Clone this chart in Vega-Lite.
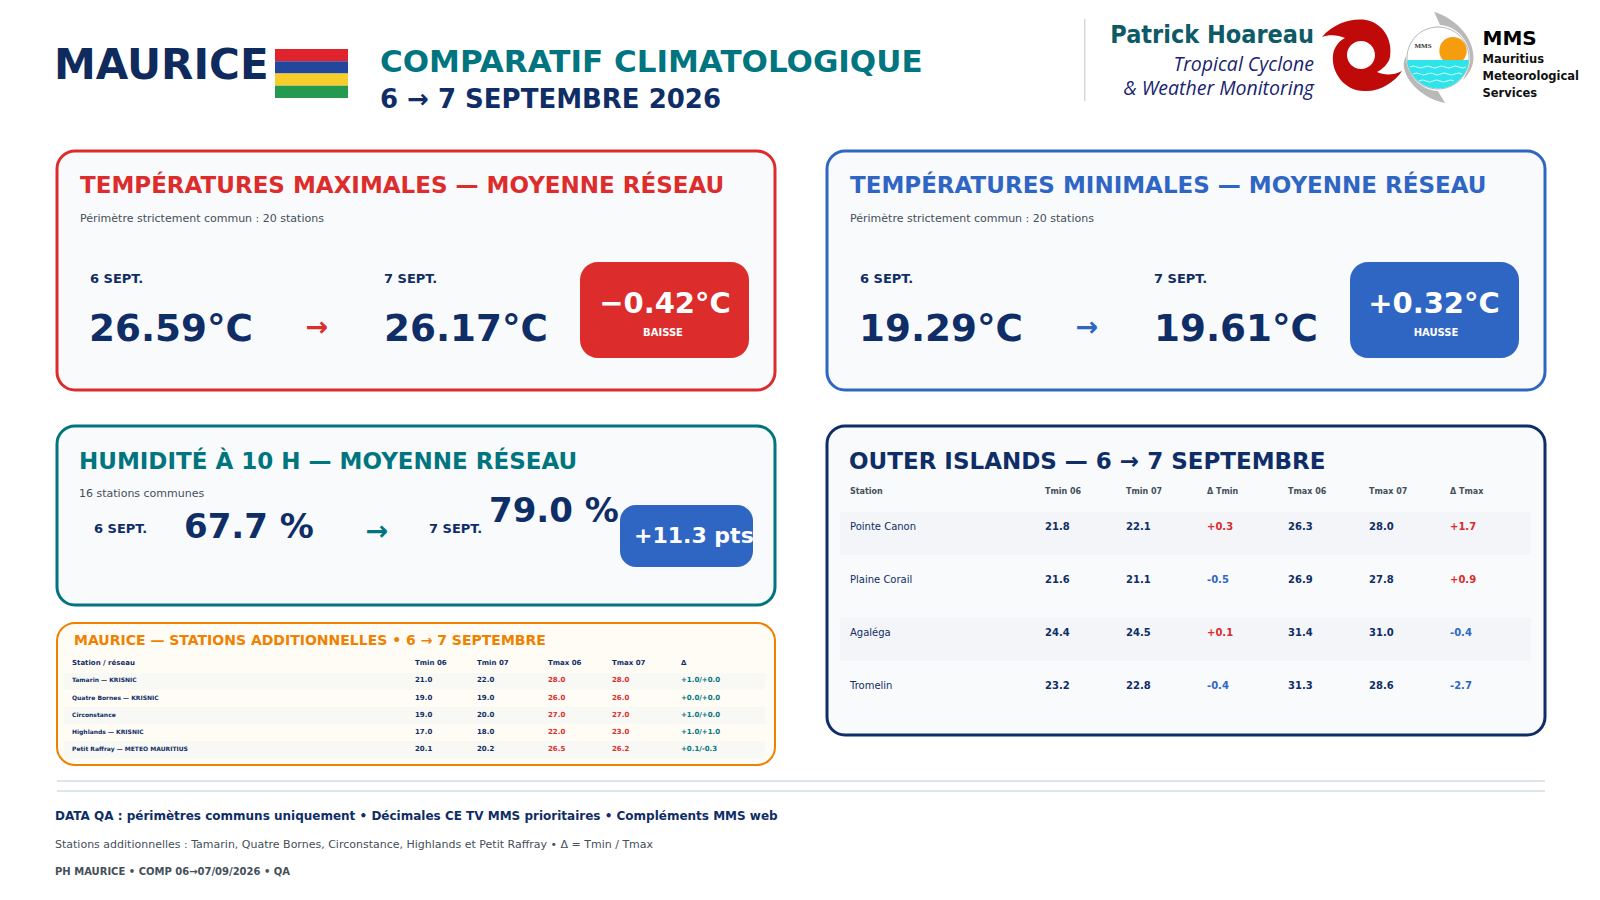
{
  "$schema": "https://vega.github.io/schema/vega-lite/v6.json",
  "background": "white",
  "padding": {"left": 52, "top": 0, "right": 0, "bottom": 0},
  "spacing": 0,
  "resolve": {"scale": {"color": "independent", "size": "independent"}},
  "config": {
    "font": "DejaVu Sans",
    "axis": {"disable": true},
    "legend": {"disable": true},
    "view": {"stroke": null},
    "text": {"font": "DejaVu Sans"},
    "scale": {"pointPadding": 0}
  },
  "datasets": {
    "stations": [
      {"station": "en-tête", "colonne": "Station", "valeur": "Station / réseau"},
      {"station": "en-tête", "colonne": "Tmin 06", "valeur": "Tmin 06"},
      {"station": "en-tête", "colonne": "Tmin 07", "valeur": "Tmin 07"},
      {"station": "en-tête", "colonne": "Tmax 06", "valeur": "Tmax 06"},
      {"station": "en-tête", "colonne": "Tmax 07", "valeur": "Tmax 07"},
      {"station": "en-tête", "colonne": "Δ", "valeur": "Δ"},
      {"station": "Tamarin", "colonne": "Station", "valeur": "Tamarin — KRISNIC"},
      {"station": "Tamarin", "colonne": "Tmin 06", "valeur": "21.0"},
      {"station": "Tamarin", "colonne": "Tmin 07", "valeur": "22.0"},
      {"station": "Tamarin", "colonne": "Tmax 06", "valeur": "28.0"},
      {"station": "Tamarin", "colonne": "Tmax 07", "valeur": "28.0"},
      {"station": "Tamarin", "colonne": "Δ", "valeur": "+1.0/+0.0"},
      {"station": "Quatre Bornes", "colonne": "Station", "valeur": "Quatre Bornes — KRISNIC"},
      {"station": "Quatre Bornes", "colonne": "Tmin 06", "valeur": "19.0"},
      {"station": "Quatre Bornes", "colonne": "Tmin 07", "valeur": "19.0"},
      {"station": "Quatre Bornes", "colonne": "Tmax 06", "valeur": "26.0"},
      {"station": "Quatre Bornes", "colonne": "Tmax 07", "valeur": "26.0"},
      {"station": "Quatre Bornes", "colonne": "Δ", "valeur": "+0.0/+0.0"},
      {"station": "Circonstance", "colonne": "Station", "valeur": "Circonstance"},
      {"station": "Circonstance", "colonne": "Tmin 06", "valeur": "19.0"},
      {"station": "Circonstance", "colonne": "Tmin 07", "valeur": "20.0"},
      {"station": "Circonstance", "colonne": "Tmax 06", "valeur": "27.0"},
      {"station": "Circonstance", "colonne": "Tmax 07", "valeur": "27.0"},
      {"station": "Circonstance", "colonne": "Δ", "valeur": "+1.0/+0.0"},
      {"station": "Highlands", "colonne": "Station", "valeur": "Highlands — KRISNIC"},
      {"station": "Highlands", "colonne": "Tmin 06", "valeur": "17.0"},
      {"station": "Highlands", "colonne": "Tmin 07", "valeur": "18.0"},
      {"station": "Highlands", "colonne": "Tmax 06", "valeur": "22.0"},
      {"station": "Highlands", "colonne": "Tmax 07", "valeur": "23.0"},
      {"station": "Highlands", "colonne": "Δ", "valeur": "+1.0/+1.0"},
      {"station": "Petit Raffray", "colonne": "Station", "valeur": "Petit Raffray — METEO MAURITIUS"},
      {"station": "Petit Raffray", "colonne": "Tmin 06", "valeur": "20.1"},
      {"station": "Petit Raffray", "colonne": "Tmin 07", "valeur": "20.2"},
      {"station": "Petit Raffray", "colonne": "Tmax 06", "valeur": "26.5"},
      {"station": "Petit Raffray", "colonne": "Tmax 07", "valeur": "26.2"},
      {"station": "Petit Raffray", "colonne": "Δ", "valeur": "+0.1/-0.3"}
    ],
    "iles": [
      {"station": "Pointe Canon", "colonne": "Tmin 06", "valeur": "21.8", "sens": "neutre"},
      {"station": "Pointe Canon", "colonne": "Tmin 07", "valeur": "22.1", "sens": "neutre"},
      {"station": "Pointe Canon", "colonne": "Δ Tmin", "valeur": "+0.3", "sens": "hausse"},
      {"station": "Pointe Canon", "colonne": "Tmax 06", "valeur": "26.3", "sens": "neutre"},
      {"station": "Pointe Canon", "colonne": "Tmax 07", "valeur": "28.0", "sens": "neutre"},
      {"station": "Pointe Canon", "colonne": "Δ Tmax", "valeur": "+1.7", "sens": "hausse"},
      {"station": "Plaine Corail", "colonne": "Tmin 06", "valeur": "21.6", "sens": "neutre"},
      {"station": "Plaine Corail", "colonne": "Tmin 07", "valeur": "21.1", "sens": "neutre"},
      {"station": "Plaine Corail", "colonne": "Δ Tmin", "valeur": "-0.5", "sens": "baisse"},
      {"station": "Plaine Corail", "colonne": "Tmax 06", "valeur": "26.9", "sens": "neutre"},
      {"station": "Plaine Corail", "colonne": "Tmax 07", "valeur": "27.8", "sens": "neutre"},
      {"station": "Plaine Corail", "colonne": "Δ Tmax", "valeur": "+0.9", "sens": "hausse"},
      {"station": "Agaléga", "colonne": "Tmin 06", "valeur": "24.4", "sens": "neutre"},
      {"station": "Agaléga", "colonne": "Tmin 07", "valeur": "24.5", "sens": "neutre"},
      {"station": "Agaléga", "colonne": "Δ Tmin", "valeur": "+0.1", "sens": "hausse"},
      {"station": "Agaléga", "colonne": "Tmax 06", "valeur": "31.4", "sens": "neutre"},
      {"station": "Agaléga", "colonne": "Tmax 07", "valeur": "31.0", "sens": "neutre"},
      {"station": "Agaléga", "colonne": "Δ Tmax", "valeur": "-0.4", "sens": "baisse"},
      {"station": "Tromelin", "colonne": "Tmin 06", "valeur": "23.2", "sens": "neutre"},
      {"station": "Tromelin", "colonne": "Tmin 07", "valeur": "22.8", "sens": "neutre"},
      {"station": "Tromelin", "colonne": "Δ Tmin", "valeur": "-0.4", "sens": "baisse"},
      {"station": "Tromelin", "colonne": "Tmax 06", "valeur": "31.3", "sens": "neutre"},
      {"station": "Tromelin", "colonne": "Tmax 07", "valeur": "28.6", "sens": "neutre"},
      {"station": "Tromelin", "colonne": "Δ Tmax", "valeur": "-2.7", "sens": "baisse"}
    ]
  },
  "vconcat": [
    {
      "bounds": "flush",
      "spacing": 0,
      "resolve": {"scale": {"color": "independent", "size": "independent"}},
      "hconcat": [
        {
          "width": 218, "height": 149,
          "view": {"fill": "transparent"},
          "data": {"values": [{"pays": "MAURICE"}]},
          "mark": {"type": "text", "align": "left", "fontWeight": "bold", "fontSize": 42, "color": "#0f2a5c"},
          "encoding": {
            "text": {"field": "pays"},
            "x": {"field": "pays", "scale": {"range": [-3, -3]}},
            "y": {"field": "pays", "scale": {"range": [66, 66]}}
          }
        },
        {
          "width": 73, "height": 149,
          "data": {"values": [{"bande": "rouge"}, {"bande": "bleu"}, {"bande": "jaune"}, {"bande": "vert"}]},
          "mark": "rect",
          "encoding": {
            "y": {"field": "bande", "sort": null, "scale": {"domain": ["rouge", "bleu", "jaune", "vert"], "range": [49, 98], "paddingInner": 0, "paddingOuter": 0}},
            "color": {"field": "bande", "scale": {"domain": ["rouge", "bleu", "jaune", "vert"], "range": ["#e1232e", "#22479c", "#f6cd2b", "#239a50"]}}
          }
        },
        {
          "width": 736, "height": 149,
          "data": {"values": [{"ligne": "COMPARATIF CLIMATOLOGIQUE"}, {"ligne": "6 → 7 SEPTEMBRE 2026"}]},
          "mark": {"type": "text", "align": "left", "fontWeight": "bold"},
          "encoding": {
            "text": {"field": "ligne"},
            "x": {"field": "ligne", "scale": {"range": [32, 32]}},
            "y": {"field": "ligne", "sort": null, "scale": {"domain": ["COMPARATIF CLIMATOLOGIQUE", "6 → 7 SEPTEMBRE 2026"], "range": [63, 100]}},
            "size": {"field": "ligne", "scale": {"type": "ordinal", "domain": ["COMPARATIF CLIMATOLOGIQUE", "6 → 7 SEPTEMBRE 2026"], "range": [31, 26]}},
            "color": {"field": "ligne", "scale": {"domain": ["COMPARATIF CLIMATOLOGIQUE", "6 → 7 SEPTEMBRE 2026"], "range": ["#00757f", "#0f2d66"]}}
          }
        },
        {
          "width": 236.5, "height": 149,
          "resolve": {"scale": {"x": "independent", "y": "independent"}},
          "layer": [
            {
              "data": {"values": [{"filet": "logo"}]},
              "mark": {"type": "rect", "fill": "#d4d8da"},
              "encoding": {
                "x": {"field": "filet", "scale": {"range": [0, 1.5], "paddingInner": 0, "paddingOuter": 0}},
                "y": {"field": "filet", "scale": {"range": [19, 101], "paddingInner": 0, "paddingOuter": 0}}
              }
            },
            {
              "data": {"values": [{"nom": "Patrick Hoareau"}]},
              "mark": {"type": "text", "align": "right", "font": "DejaVu Sans Condensed", "fontWeight": "bold", "fontSize": 25, "color": "#0e5a66"},
              "encoding": {
                "text": {"field": "nom"},
                "x": {"field": "nom", "scale": {"range": [230, 230]}},
                "y": {"field": "nom", "scale": {"range": [35, 35]}}
              }
            },
            {
              "data": {"values": [{"ligne": "Tropical Cyclone"}, {"ligne": "& Weather Monitoring"}]},
              "mark": {"type": "text", "align": "right", "font": "Open Sans", "fontStyle": "italic", "fontSize": 19.5, "color": "#1a1f70"},
              "encoding": {
                "text": {"field": "ligne"},
                "x": {"field": "ligne", "scale": {"range": [230, 230]}},
                "y": {"field": "ligne", "sort": null, "scale": {"domain": ["Tropical Cyclone", "& Weather Monitoring"], "range": [65, 89]}}
              }
            }
          ]
        },
        {
          "width": 80, "height": 110,
          "data": {"values": [{"logo": "cyclone"}]},
          "mark": {"type": "point", "filled": true, "opacity": 1, "size": 4, "fill": "#c00a0a", "stroke": null, "shape": "M-39,-18 C-26,-33 -8,-37 5,-35 C22,-32 32,-15 29,2 C28,8 22,14 16,17 C22,20 32,21 41,16 C33,28 18,37 3,36 C-16,36 -30,18 -28,0 C-27,-8 -22,-14 -16,-17 C-22,-20 -32,-21 -39,-18 Z M-14,0 A14,14 0 1 0 14,0 A14,14 0 1 0 -14,0 Z"},
          "encoding": {}
        },
        {
          "width": 74, "height": 116,
          "resolve": {"scale": {"x": "independent", "y": "independent"}},
          "layer": [
            {
              "data": {"values": [{"logo": "disque"}]},
              "mark": {"type": "point", "filled": true, "opacity": 1, "size": 4, "fill": "white", "stroke": "#b5b5b5", "strokeWidth": 1, "shape": "M-31,0 A31,31 0 1 1 31,0 A31,31 0 1 1 -31,0 Z"},
              "encoding": {}
            },
            {
              "data": {"values": [{"logo": "soleil"}]},
              "mark": {"type": "point", "filled": true, "opacity": 1, "size": 4, "fill": "#f59d0e", "stroke": null, "shape": "M1.3,-7.3 A13.7,13.7 0 1 1 28.7,-7.3 A13.7,13.7 0 1 1 1.3,-7.3 Z"},
              "encoding": {}
            },
            {
              "data": {"values": [{"logo": "mer"}]},
              "mark": {"type": "point", "filled": true, "opacity": 1, "size": 4, "fill": "#2ee4ea", "stroke": null, "shape": "M-30.9,2 A31,31 0 0 0 30.9,2 Z"},
              "encoding": {}
            },
            {
              "data": {"values": [{"logo": "vagues"}]},
              "mark": {"type": "point", "filled": false, "opacity": 1, "size": 4, "stroke": "white", "strokeWidth": 0.8, "shape": "M-28,9 q3.5,-2 7,0 t7,0 t7,0 t7,0 t7,0 t7,0 t7,0 t7,0 M-25,16 q3.5,-2 7,0 t7,0 t7,0 t7,0 t7,0 t7,0 t7,0 M-19,23 q3.5,-2 7,0 t7,0 t7,0 t7,0 t7,0"},
              "encoding": {}
            },
            {
              "data": {"values": [{"sigle": "MMS"}]},
              "mark": {"type": "text", "font": "Liberation Serif", "fontWeight": "bold", "fontSize": 7, "color": "#333333"},
              "encoding": {
                "text": {"field": "sigle"},
                "x": {"field": "sigle", "scale": {"range": [22, 22]}},
                "y": {"field": "sigle", "scale": {"range": [46, 46]}}
              }
            },
            {
              "data": {"values": [{"logo": "croissants"}]},
              "mark": {"type": "point", "filled": true, "opacity": 1, "size": 4, "fill": "#b9b9b9", "stroke": null, "shape": "M-4,-46 C15,-41 36,-22 35.5,0 C35.5,8 31,16 25,22 C29,14 32,8 32,0 C32,-18 18,-32 2,-33 C0,-38 -2,-42 -4,-46 Z M7,45 C-10,42 -30,28 -34,10 C-35,6 -34,2 -32,-2 C-32,16 -18,32 0,33 C2,37 5,41 7,45 Z"},
              "encoding": {}
            }
          ]
        },
        {
          "width": 125, "height": 149,
          "resolve": {"scale": {"x": "independent", "y": "independent"}},
          "layer": [
            {
              "data": {"values": [{"sigle": "MMS"}]},
              "mark": {"type": "text", "align": "left", "fontWeight": "bold", "fontSize": 20, "color": "black"},
              "encoding": {
                "text": {"field": "sigle"},
                "x": {"field": "sigle", "scale": {"range": [7.5, 7.5]}},
                "y": {"field": "sigle", "scale": {"range": [39, 39]}}
              }
            },
            {
              "data": {"values": [{"ligne": "Mauritius"}, {"ligne": "Meteorological"}, {"ligne": "Services"}]},
              "mark": {"type": "text", "align": "left", "fontWeight": "bold", "fontSize": 11.5, "color": "#111111"},
              "encoding": {
                "text": {"field": "ligne"},
                "x": {"field": "ligne", "scale": {"range": [7.5, 7.5]}},
                "y": {"field": "ligne", "sort": null, "scale": {"domain": ["Mauritius", "Meteorological", "Services"], "range": [59.5, 94]}}
              }
            }
          ]
        }
      ]
    },
    {
      "spacing": 48,
      "resolve": {"scale": {"color": "independent", "size": "independent"}},
      "hconcat": [
        {
          "bounds": "flush",
          "spacing": 36,
          "resolve": {"scale": {"color": "independent", "size": "independent"}},
          "vconcat": [
            {
              "width": 718, "height": 239,
              "view": {"fill": "#f8fafc", "stroke": "#dc2c2c", "strokeWidth": 3, "cornerRadius": 18},
              "title": {"text": "TEMPÉRATURES MAXIMALES — MOYENNE RÉSEAU", "anchor": "start", "frame": "group", "offset": -73, "dx": 23, "fontSize": 23, "fontWeight": "bold", "color": "#dc2c2c", "subtitle": "Périmètre strictement commun : 20 stations", "subtitleFontSize": 11, "subtitleColor": "#444f5a", "subtitlePadding": 15},
              "resolve": {"scale": {"x": "independent", "y": "independent", "size": "independent"}},
              "layer": [
                {
                  "data": {"values": [{"marge": "gauche"}]},
                  "mark": {"type": "rect", "fill": "transparent"},
                  "encoding": {
                    "x": {"field": "marge", "scale": {"range": [-3.5, 0], "paddingInner": 0, "paddingOuter": 0}},
                    "y": {"field": "marge", "scale": {"range": [0, 1], "paddingInner": 0, "paddingOuter": 0}}
                  }
                },
                {
                  "data": {"values": [{"ecart": "−0.42°C"}]},
                  "mark": {"type": "rect", "fill": "#dc2c2c", "cornerRadius": 18},
                  "encoding": {
                    "x": {"field": "ecart", "scale": {"range": [523, 692], "paddingInner": 0, "paddingOuter": 0}},
                    "y": {"field": "ecart", "scale": {"range": [111, 207], "paddingInner": 0, "paddingOuter": 0}}
                  }
                },
                {
                  "data": {"values": [
                    {"jour": "6 SEPT.", "ligne": "date", "texte": "6 SEPT."},
                    {"jour": "7 SEPT.", "ligne": "date", "texte": "7 SEPT."}
                  ]},
                  "mark": {"type": "text", "align": "left", "fontWeight": "bold", "fontSize": 13, "color": "#0f2d66"},
                  "encoding": {
                    "text": {"field": "texte"},
                    "x": {"field": "jour", "sort": null, "scale": {"domain": ["6 SEPT.", "7 SEPT."], "range": [33, 327]}},
                    "y": {"field": "ligne", "scale": {"range": [128, 128]}}
                  }
                },
                {
                  "data": {"values": [
                    {"jour": "6 SEPT.", "ligne": "valeur", "texte": "26.59°C"},
                    {"jour": "7 SEPT.", "ligne": "valeur", "texte": "26.17°C"}
                  ]},
                  "mark": {"type": "text", "align": "left", "fontWeight": "bold", "fontSize": 37.3, "color": "#0f2d66"},
                  "encoding": {
                    "text": {"field": "texte"},
                    "x": {"field": "jour", "sort": null, "scale": {"domain": ["6 SEPT.", "7 SEPT."], "range": [32, 327]}},
                    "y": {"field": "ligne", "scale": {"range": [179, 179]}}
                  }
                },
                {
                  "data": {"values": [{"fleche": "→"}]},
                  "mark": {"type": "text", "fontWeight": "bold", "fontSize": 27, "color": "#dc2c2c"},
                  "encoding": {
                    "text": {"field": "fleche"},
                    "x": {"field": "fleche", "scale": {"range": [260, 260]}},
                    "y": {"field": "fleche", "scale": {"range": [177, 177]}}
                  }
                },
                {
                  "data": {"values": [{"ligne": "ecart", "texte": "−0.42°C"}, {"ligne": "sens", "texte": "BAISSE"}]},
                  "mark": {"type": "text", "fontWeight": "bold", "color": "white"},
                  "encoding": {
                    "text": {"field": "texte"},
                    "x": {"field": "ligne", "sort": null, "scale": {"domain": ["ecart", "sens"], "range": [608, 606]}},
                    "y": {"field": "ligne", "sort": null, "scale": {"domain": ["ecart", "sens"], "range": [153, 181.5]}},
                    "size": {"field": "ligne", "scale": {"type": "ordinal", "domain": ["ecart", "sens"], "range": [29, 10]}}
                  }
                }
              ]
            },
            {
              "bounds": "flush",
              "spacing": 18,
              "vconcat": [
                {
                  "width": 718, "height": 179,
                  "view": {"fill": "#f8fafc", "stroke": "#00757f", "strokeWidth": 3, "cornerRadius": 18},
                  "title": {"text": "HUMIDITÉ À 10 H — MOYENNE RÉSEAU", "anchor": "start", "frame": "group", "offset": -73, "dx": 22, "fontSize": 23, "fontWeight": "bold", "color": "#00757f", "subtitle": "16 stations communes", "subtitleFontSize": 11, "subtitleColor": "#444f5a", "subtitlePadding": 14},
                  "resolve": {"scale": {"x": "independent", "y": "independent"}},
                  "layer": [
                    {
                      "data": {"values": [{"ecart": "+11.3 pts"}]},
                      "mark": {"type": "rect", "fill": "#2f66c4", "cornerRadius": 16},
                      "encoding": {
                        "x": {"field": "ecart", "scale": {"range": [563, 696], "paddingInner": 0, "paddingOuter": 0}},
                        "y": {"field": "ecart", "scale": {"range": [79, 141], "paddingInner": 0, "paddingOuter": 0}}
                      }
                    },
                    {
                      "data": {"values": [{"jour": "6 SEPT."}, {"jour": "7 SEPT."}]},
                      "mark": {"type": "text", "align": "left", "fontWeight": "bold", "fontSize": 13, "color": "#0f2d66"},
                      "encoding": {
                        "text": {"field": "jour"},
                        "x": {"field": "jour", "sort": null, "scale": {"domain": ["6 SEPT.", "7 SEPT."], "range": [37, 372]}},
                        "y": {"field": "jour", "scale": {"range": [103, 103]}}
                      }
                    },
                    {
                      "data": {"values": [{"jour": "6 SEPT.", "valeur": "67.7 %"}, {"jour": "7 SEPT.", "valeur": "79.0 %"}]},
                      "mark": {"type": "text", "align": "left", "fontWeight": "bold", "fontSize": 34, "color": "#0f2d66"},
                      "encoding": {
                        "text": {"field": "valeur"},
                        "x": {"field": "jour", "sort": null, "scale": {"domain": ["6 SEPT.", "7 SEPT."], "range": [127, 432]}},
                        "y": {"field": "jour", "sort": null, "scale": {"domain": ["6 SEPT.", "7 SEPT."], "range": [102, 86]}}
                      }
                    },
                    {
                      "data": {"values": [{"fleche": "→"}]},
                      "mark": {"type": "text", "fontWeight": "bold", "fontSize": 27, "color": "#00757f"},
                      "encoding": {
                        "text": {"field": "fleche"},
                        "x": {"field": "fleche", "scale": {"range": [320, 320]}},
                        "y": {"field": "fleche", "scale": {"range": [106, 106]}}
                      }
                    },
                    {
                      "data": {"values": [{"ecart": "+11.3 pts"}]},
                      "mark": {"type": "text", "align": "left", "fontWeight": "bold", "fontSize": 22, "color": "white"},
                      "encoding": {
                        "text": {"field": "ecart"},
                        "x": {"field": "ecart", "scale": {"range": [577, 577]}},
                        "y": {"field": "ecart", "scale": {"range": [110, 110]}}
                      }
                    }
                  ]
                },
                {
                  "width": 718, "height": 142,
                  "view": {"fill": "#fffcf6", "stroke": "#f08000", "strokeWidth": 2, "cornerRadius": 18},
                  "title": {"text": "MAURICE — STATIONS ADDITIONNELLES • 6 → 7 SEPTEMBRE", "anchor": "start", "frame": "group", "offset": -25, "dx": 17, "fontSize": 14, "fontWeight": "bold", "color": "#f08000"},
                  "resolve": {"scale": {"x": "independent", "y": "independent"}},
                  "layer": [
                    {
                      "data": {"values": [{"station": "Tamarin"}, {"station": "Circonstance"}, {"station": "Petit Raffray"}]},
                      "mark": {"type": "rect", "fill": "#f8f8f4"},
                      "encoding": {
                        "x": {"datum": "bande", "scale": {"range": [7, 708], "paddingInner": 0, "paddingOuter": 0}},
                        "y": {"field": "station", "sort": null, "scale": {"domain": ["Tamarin", "Quatre Bornes", "Circonstance", "Highlands", "Petit Raffray"], "range": [50, 135], "paddingInner": 0, "paddingOuter": 0}}
                      }
                    },
                    {
                      "data": {"name": "stations"},
                      "transform": [{"filter": {"field": "colonne", "equal": "Station"}}],
                      "mark": {"type": "text", "align": "left", "fontWeight": "bold", "color": "#0f2d66"},
                      "encoding": {
                        "text": {"field": "valeur"},
                        "x": {"field": "colonne", "scale": {"range": [15, 15]}},
                        "y": {"field": "station", "sort": null, "scale": {"domain": ["en-tête", "Tamarin", "Quatre Bornes", "Circonstance", "Highlands", "Petit Raffray"], "range": [40, 126.3]}},
                        "size": {"condition": {"test": "datum.station === 'en-tête'", "value": 7}, "value": 6}
                      }
                    },
                    {
                      "data": {"name": "stations"},
                      "transform": [{"filter": {"field": "colonne", "oneOf": ["Tmin 06", "Tmin 07"]}}],
                      "mark": {"type": "text", "align": "left", "fontWeight": "bold", "fontSize": 7, "color": "#0f2d66"},
                      "encoding": {
                        "text": {"field": "valeur"},
                        "x": {"field": "colonne", "sort": null, "scale": {"domain": ["Tmin 06", "Tmin 07"], "range": [358, 420]}},
                        "y": {"field": "station", "sort": null, "scale": {"domain": ["en-tête", "Tamarin", "Quatre Bornes", "Circonstance", "Highlands", "Petit Raffray"], "range": [40, 126.3]}}
                      }
                    },
                    {
                      "data": {"name": "stations"},
                      "transform": [{"filter": {"field": "colonne", "oneOf": ["Tmax 06", "Tmax 07"]}}],
                      "mark": {"type": "text", "align": "left", "fontWeight": "bold", "fontSize": 7},
                      "encoding": {
                        "text": {"field": "valeur"},
                        "color": {"condition": {"test": "datum.station === 'en-tête'", "value": "#0f2d66"}, "value": "#dc2c2c"},
                        "x": {"field": "colonne", "sort": null, "scale": {"domain": ["Tmax 06", "Tmax 07"], "range": [491, 555]}},
                        "y": {"field": "station", "sort": null, "scale": {"domain": ["en-tête", "Tamarin", "Quatre Bornes", "Circonstance", "Highlands", "Petit Raffray"], "range": [40, 126.3]}}
                      }
                    },
                    {
                      "data": {"name": "stations"},
                      "transform": [{"filter": {"field": "colonne", "equal": "Δ"}}],
                      "mark": {"type": "text", "align": "left", "fontWeight": "bold", "fontSize": 7},
                      "encoding": {
                        "text": {"field": "valeur"},
                        "color": {"condition": {"test": "datum.station === 'en-tête'", "value": "#0f2d66"}, "value": "#00757f"},
                        "x": {"field": "colonne", "scale": {"range": [624, 624]}},
                        "y": {"field": "station", "sort": null, "scale": {"domain": ["en-tête", "Tamarin", "Quatre Bornes", "Circonstance", "Highlands", "Petit Raffray"], "range": [40, 126.3]}}
                      }
                    }
                  ]
                }
              ]
            }
          ]
        },
        {
          "bounds": "flush",
          "spacing": 36,
          "resolve": {"scale": {"color": "independent", "size": "independent"}},
          "vconcat": [
            {
              "width": 718, "height": 239,
              "view": {"fill": "#f8fafc", "stroke": "#2f66c4", "strokeWidth": 3, "cornerRadius": 18},
              "title": {"text": "TEMPÉRATURES MINIMALES — MOYENNE RÉSEAU", "anchor": "start", "frame": "group", "offset": -73, "dx": 23, "fontSize": 23, "fontWeight": "bold", "color": "#2f66c4", "subtitle": "Périmètre strictement commun : 20 stations", "subtitleFontSize": 11, "subtitleColor": "#444f5a", "subtitlePadding": 15},
              "resolve": {"scale": {"x": "independent", "y": "independent", "size": "independent"}},
              "layer": [
                {
                  "data": {"values": [{"ecart": "+0.32°C"}]},
                  "mark": {"type": "rect", "fill": "#2f66c4", "cornerRadius": 18},
                  "encoding": {
                    "x": {"field": "ecart", "scale": {"range": [523, 692], "paddingInner": 0, "paddingOuter": 0}},
                    "y": {"field": "ecart", "scale": {"range": [111, 207], "paddingInner": 0, "paddingOuter": 0}}
                  }
                },
                {
                  "data": {"values": [
                    {"jour": "6 SEPT.", "ligne": "date", "texte": "6 SEPT."},
                    {"jour": "7 SEPT.", "ligne": "date", "texte": "7 SEPT."}
                  ]},
                  "mark": {"type": "text", "align": "left", "fontWeight": "bold", "fontSize": 13, "color": "#0f2d66"},
                  "encoding": {
                    "text": {"field": "texte"},
                    "x": {"field": "jour", "sort": null, "scale": {"domain": ["6 SEPT.", "7 SEPT."], "range": [33, 327]}},
                    "y": {"field": "ligne", "scale": {"range": [128, 128]}}
                  }
                },
                {
                  "data": {"values": [
                    {"jour": "6 SEPT.", "ligne": "valeur", "texte": "19.29°C"},
                    {"jour": "7 SEPT.", "ligne": "valeur", "texte": "19.61°C"}
                  ]},
                  "mark": {"type": "text", "align": "left", "fontWeight": "bold", "fontSize": 37.3, "color": "#0f2d66"},
                  "encoding": {
                    "text": {"field": "texte"},
                    "x": {"field": "jour", "sort": null, "scale": {"domain": ["6 SEPT.", "7 SEPT."], "range": [32, 327]}},
                    "y": {"field": "ligne", "scale": {"range": [179, 179]}}
                  }
                },
                {
                  "data": {"values": [{"fleche": "→"}]},
                  "mark": {"type": "text", "fontWeight": "bold", "fontSize": 27, "color": "#2f66c4"},
                  "encoding": {
                    "text": {"field": "fleche"},
                    "x": {"field": "fleche", "scale": {"range": [260, 260]}},
                    "y": {"field": "fleche", "scale": {"range": [177, 177]}}
                  }
                },
                {
                  "data": {"values": [{"ligne": "ecart", "texte": "+0.32°C"}, {"ligne": "sens", "texte": "HAUSSE"}]},
                  "mark": {"type": "text", "fontWeight": "bold", "color": "white"},
                  "encoding": {
                    "text": {"field": "texte"},
                    "x": {"field": "ligne", "sort": null, "scale": {"domain": ["ecart", "sens"], "range": [607, 609]}},
                    "y": {"field": "ligne", "sort": null, "scale": {"domain": ["ecart", "sens"], "range": [153, 181.5]}},
                    "size": {"field": "ligne", "scale": {"type": "ordinal", "domain": ["ecart", "sens"], "range": [29, 10]}}
                  }
                }
              ]
            },
            {
              "width": 718, "height": 309,
              "view": {"fill": "#f8fafc", "stroke": "#0f2d66", "strokeWidth": 3, "cornerRadius": 18},
              "title": {"text": "OUTER ISLANDS — 6 → 7 SEPTEMBRE", "anchor": "start", "frame": "group", "offset": -48, "dx": 22, "fontSize": 23, "fontWeight": "bold", "color": "#0f2d66"},
              "resolve": {"scale": {"x": "independent", "y": "independent"}},
              "layer": [
                {
                  "data": {"values": [{"station": "Pointe Canon"}, {"station": "Agaléga"}]},
                  "mark": {"type": "rect", "fill": "#f3f5f8"},
                  "encoding": {
                    "x": {"datum": "bande", "scale": {"range": [13, 704], "paddingInner": 0, "paddingOuter": 0}},
                    "y": {"field": "station", "sort": null, "scale": {"domain": ["Pointe Canon", "Plaine Corail", "Agaléga", "Tromelin"], "range": [81, 292.6], "paddingInner": 0.19, "paddingOuter": 0.095}}
                  }
                },
                {
                  "data": {"values": [{"colonne": "Tmin 06"}, {"colonne": "Tmin 07"}, {"colonne": "Δ Tmin"}, {"colonne": "Tmax 06"}, {"colonne": "Tmax 07"}, {"colonne": "Δ Tmax"}]},
                  "mark": {"type": "text", "align": "left", "fontWeight": "bold", "fontSize": 8, "color": "#444f5a"},
                  "encoding": {
                    "text": {"field": "colonne"},
                    "x": {"field": "colonne", "sort": null, "scale": {"domain": ["Tmin 06", "Tmin 07", "Δ Tmin", "Tmax 06", "Tmax 07", "Δ Tmax"], "range": [218, 623]}},
                    "y": {"field": "colonne", "scale": {"range": [66, 66]}}
                  }
                },
                {
                  "data": {"values": [{"colonne": "Station"}]},
                  "mark": {"type": "text", "align": "left", "fontWeight": "bold", "fontSize": 8, "color": "#444f5a"},
                  "encoding": {
                    "text": {"field": "colonne"},
                    "x": {"field": "colonne", "scale": {"range": [23, 23]}},
                    "y": {"field": "colonne", "scale": {"range": [66, 66]}}
                  }
                },
                {
                  "data": {"values": [{"station": "Pointe Canon"}, {"station": "Plaine Corail"}, {"station": "Agaléga"}, {"station": "Tromelin"}]},
                  "mark": {"type": "text", "align": "left", "fontSize": 10, "color": "#0f2d66"},
                  "encoding": {
                    "text": {"field": "station"},
                    "x": {"field": "station", "scale": {"range": [23, 23]}},
                    "y": {"field": "station", "sort": null, "scale": {"domain": ["Pointe Canon", "Plaine Corail", "Agaléga", "Tromelin"], "range": [100.7, 260]}}
                  }
                },
                {
                  "data": {"name": "iles"},
                  "mark": {"type": "text", "align": "left", "fontWeight": "bold", "fontSize": 10},
                  "encoding": {
                    "text": {"field": "valeur"},
                    "color": {"field": "sens", "scale": {"domain": ["neutre", "hausse", "baisse"], "range": ["#0f2d66", "#dc2c2c", "#2f66c4"]}},
                    "x": {"field": "colonne", "sort": null, "scale": {"domain": ["Tmin 06", "Tmin 07", "Δ Tmin", "Tmax 06", "Tmax 07", "Δ Tmax"], "range": [218, 623]}},
                    "y": {"field": "station", "sort": null, "scale": {"domain": ["Pointe Canon", "Plaine Corail", "Agaléga", "Tromelin"], "range": [100.7, 260]}}
                  }
                }
              ]
            }
          ]
        }
      ]
    },
    {
      "width": 1490, "height": 135,
      "resolve": {"scale": {"y": "independent", "x": "independent"}},
      "layer": [
        {
          "data": {"values": [{"trait": "haut"}, {"trait": "bas"}]},
          "mark": {"type": "rule", "color": "#bccdd8", "strokeWidth": 1, "xOffset": -2, "x2Offset": -2},
          "encoding": {
            "y": {"field": "trait", "sort": null, "scale": {"type": "point", "domain": ["haut", "bas"], "range": [15, 25]}}
          }
        },
        {
          "data": {"values": [{"ligne": "DATA QA : périmètres communs uniquement • Décimales CE TV MMS prioritaires • Compléments MMS web"}]},
          "mark": {"type": "text", "align": "left", "fontWeight": "bold", "fontSize": 12, "color": "#0f2d66"},
          "encoding": {
            "text": {"field": "ligne"},
            "x": {"field": "ligne", "scale": {"range": [-2, -2]}},
            "y": {"field": "ligne", "scale": {"range": [50, 50]}}
          }
        },
        {
          "data": {"values": [{"ligne": "Stations additionnelles : Tamarin, Quatre Bornes, Circonstance, Highlands et Petit Raffray • Δ = Tmin / Tmax"}]},
          "mark": {"type": "text", "align": "left", "fontSize": 11, "color": "#444f5a"},
          "encoding": {
            "text": {"field": "ligne"},
            "x": {"field": "ligne", "scale": {"range": [-2, -2]}},
            "y": {"field": "ligne", "scale": {"range": [79, 79]}}
          }
        },
        {
          "data": {"values": [{"ligne": "PH MAURICE • COMP 06→07/09/2026 • QA"}]},
          "mark": {"type": "text", "align": "left", "fontWeight": "bold", "fontSize": 10, "color": "#444f5a"},
          "encoding": {
            "text": {"field": "ligne"},
            "x": {"field": "ligne", "scale": {"range": [-2, -2]}},
            "y": {"field": "ligne", "scale": {"range": [106, 106]}}
          }
        }
      ]
    }
  ]
}
